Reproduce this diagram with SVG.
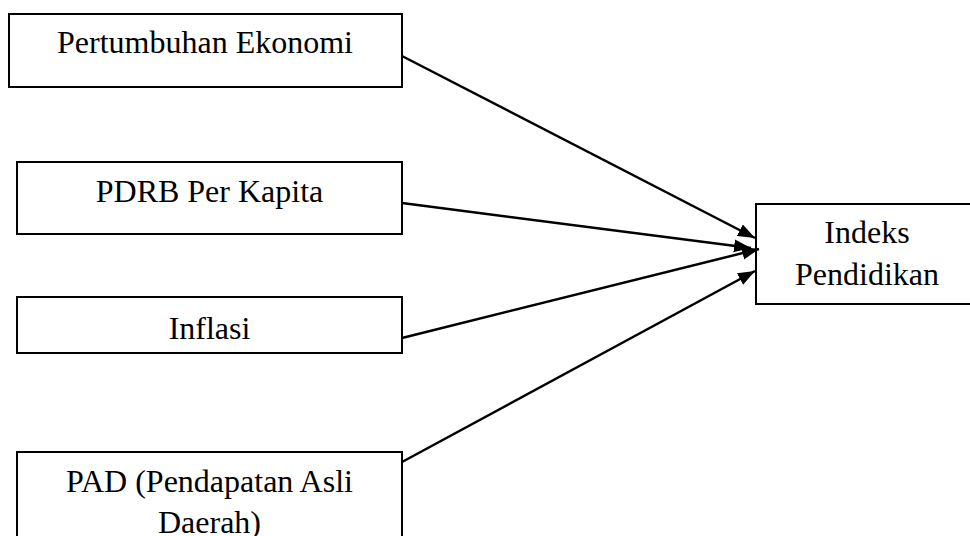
<svg xmlns="http://www.w3.org/2000/svg" width="970" height="536" viewBox="0 0 970 536">
<defs>
<style>
.box{fill:#fff;stroke:#000;stroke-width:2}
.lbl{font-family:"Liberation Serif","Times New Roman",serif;font-size:32px;fill:#000;text-anchor:middle}
.edge{stroke:#000;stroke-width:2.5;fill:none;marker-end:url(#ah)}
</style>
<marker id="ah" markerUnits="userSpaceOnUse" markerWidth="20" markerHeight="14" refX="17" refY="6.5" orient="auto">
<path d="M0,0 L17,6.5 L0,13 z" fill="#000"/>
</marker>
</defs>
<rect width="970" height="536" fill="#fff"/>
<g id="n1"><rect class="box" x="9" y="14" width="393" height="73"/><text class="lbl" x="205" y="53">Pertumbuhan Ekonomi</text></g>
<g id="n2"><rect class="box" x="17" y="162" width="385" height="72"/><text class="lbl" x="209.5" y="202">PDRB Per Kapita</text></g>
<g id="n3"><rect class="box" x="17" y="297" width="385" height="56"/><text class="lbl" x="209.5" y="339">Inflasi</text></g>
<g id="n4"><rect class="box" x="17" y="452" width="385" height="100"/><text class="lbl" x="209.5" y="492">PAD (Pendapatan Asli</text><text class="lbl" x="209.5" y="533">Daerah)</text></g>
<g id="n5"><rect class="box" x="756" y="204" width="222" height="100"/><text class="lbl" x="867" y="243">Indeks</text><text class="lbl" x="867" y="285">Pendidikan</text></g>
<g id="edges">
<line class="edge" x1="402" y1="56" x2="755" y2="238"/>
<line class="edge" x1="402" y1="203" x2="751" y2="248"/>
<line class="edge" x1="402" y1="338" x2="759" y2="249"/>
<line class="edge" x1="402" y1="462" x2="755" y2="271"/>
</g>
</svg>
